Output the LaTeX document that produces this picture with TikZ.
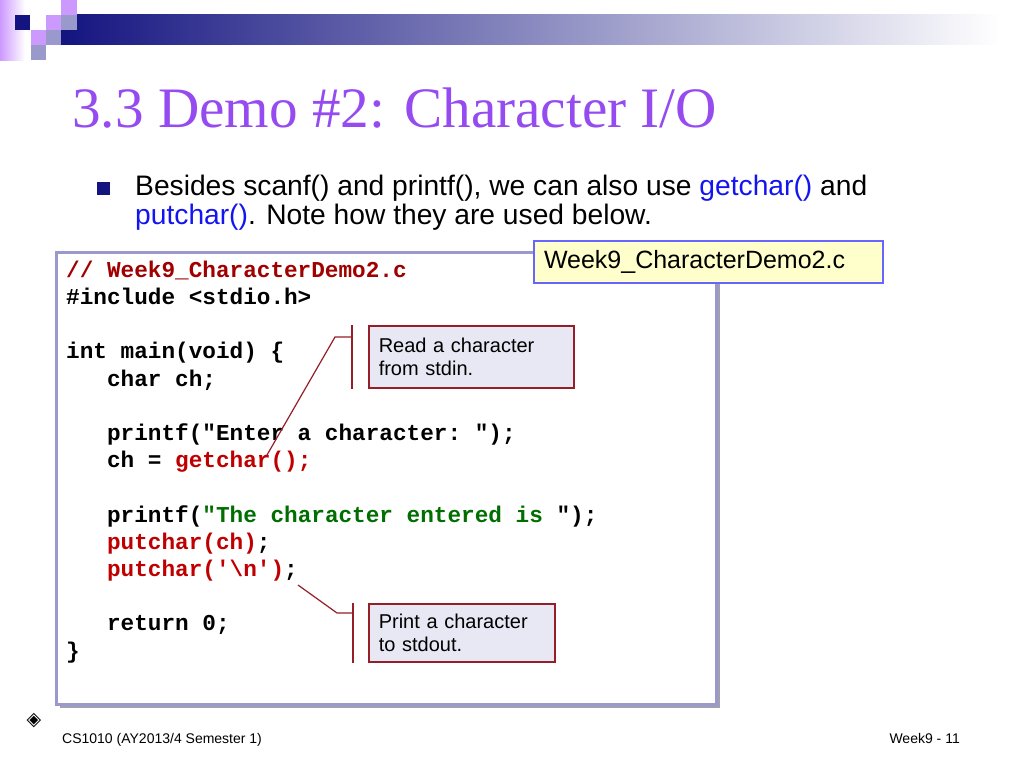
\documentclass[tikz,border=0pt]{standalone}
\usepackage{fontspec}
\setmainfont{Liberation Sans}
\setmonofont{Liberation Mono}
\newfontfamily\titrefont{Liberation Serif}
\newfontfamily\symbfont{DejaVu Sans}
\usepackage{tikz}
\usetikzlibrary{shapes}
\usetikzlibrary{positioning}
\usetikzlibrary{calc}
\usetikzlibrary{shadows}
\definecolor{marine}{RGB}{20,20,128}
\definecolor{lilas}{RGB}{204,153,255}
\definecolor{grisbleu}{RGB}{153,153,204}
\definecolor{violet}{RGB}{150,75,240}
\definecolor{bleu}{RGB}{20,20,240}
\definecolor{rouge}{RGB}{192,0,0}
\definecolor{comm}{RGB}{160,0,0}
\definecolor{vert}{RGB}{0,110,0}
\definecolor{brique}{RGB}{150,30,40}
\definecolor{lavande}{RGB}{232,232,244}
\definecolor{jaune}{RGB}{255,255,204}
\definecolor{cadrebleu}{RGB}{102,102,255}
\definecolor{ombre}{RGB}{160,160,178}
\tikzstyle{titre}=[font=\titrefont\fontsize{57.2}{60}\selectfont,text=violet,inner sep=0pt]
\tikzstyle{texte}=[font=\fontsize{28.2}{29}\selectfont,align=left,inner sep=0pt]
\tikzstyle{puce}=[rectangle,fill=marine,minimum size=13pt,inner sep=0pt]
\tikzstyle{cadre}=[
        rectangle,
        draw=grisbleu,
        line width=2.5pt,
        fill=white,
        drop shadow={shadow xshift=4pt,shadow yshift=-4pt,fill=ombre,opacity=1}
]
\tikzstyle{code}=[font=\fontsize{22.7}{27.2}\selectfont\ttfamily\bfseries,align=left,inner sep=0pt]
\tikzstyle{fichier}=[
        rectangle,
        draw=cadrebleu,
        line width=2pt,
        fill=jaune,
        font=\fontsize{25}{30}\selectfont,
        text width=329pt,
        align=left,
        minimum height=42pt,
        inner xsep=10pt,
        inner ysep=0pt
]
\tikzstyle{bulle}=[
        rectangle,
        draw=brique,
        line width=1.5pt,
        fill=lavande,
        font=\fontsize{20}{23}\selectfont,
        align=left,
        inner xsep=10pt,
        inner ysep=0pt
]
\tikzstyle{lien}=[draw=brique,line width=1.2pt]
\tikzstyle{pied}=[font=\fontsize{14}{16}\selectfont,inner sep=0pt]

\begin{document}
\begin{tikzpicture}[x=1pt,y=-1pt]
\useasboundingbox (0,0) rectangle (1024,768);
%Bandeau
\shade[left color=lilas,right color=white] (0,0) rectangle (25,60);
\shade[left color=marine,right color=white] (61,15) rectangle (1000,45);
\fill[marine] (15,15) rectangle (30,30);
\fill[lilas] (46,15) rectangle (61,30);
\fill[lilas] (61,0) rectangle (77,15);
\fill[grisbleu] (61,15) rectangle (77,30);
\fill[lilas] (31,30) rectangle (46,45);
\fill[grisbleu] (46,30) rectangle (61,45);
\fill[grisbleu] (31,45) rectangle (46,60);
\node[titre,anchor=base west] (titre) at (72,127) {3.3 Demo \#2: Character I/O};
\node[puce] (carre) at (103.5,188.5) {};
\node[texte,anchor=base west] (phrase) at (135,224) {Besides scanf() and printf(), we can also use \textcolor{bleu}{getchar()} and\\\textcolor{bleu}{putchar()}. Note how they are used below.};
%Code
\node[cadre,anchor=north west,minimum width=660pt,minimum height=452pt] (boite) at (55,251) {};
\node[code,anchor=base west] (source) at (66,658) {\textcolor{comm}{// Week9\_CharacterDemo2.c}\\
\#include <stdio.h>\\
\mbox{}\\
int main(void) \{\\
\phantom{xxx}char ch;\\
\mbox{}\\
\phantom{xxx}printf("Enter a character: ");\\
\phantom{xxx}ch = \textcolor{rouge}{getchar();}\\
\mbox{}\\
\phantom{xxx}printf(\textcolor{vert}{"The character entered is }");\\
\phantom{xxx}\textcolor{rouge}{putchar(ch)};\\
\phantom{xxx}\textcolor{rouge}{putchar('\textbackslash n')};\\
\mbox{}\\
\phantom{xxx}return 0;\\
\}};
\node[fichier,anchor=north west] (nom) at (533,240) {Week9\_CharacterDemo2.c};
%Bulles
\node[bulle,anchor=north west,text width=185pt,minimum height=62pt] (lire) at (368,325) {Read a character\\from stdin.};
\node[bulle,anchor=north west,text width=166pt,minimum height=58pt] (ecrire) at (368,603) {Print a character\\to stdout.};
\coordinate (haut1) at ($(lire.north west)+(-16,0)$);
\coordinate (bas1) at ($(lire.south west)+(-16,0)$);
\coordinate (coude1) at (335,337);
\coordinate (pointe1) at (267,455);
\coordinate (haut2) at ($(ecrire.north west)+(-15,0)$);
\coordinate (bas2) at ($(ecrire.south west)+(-15,0)$);
\coordinate (coude2) at (337,613);
\coordinate (pointe2) at (298,585);
%Placementdesliens
\draw[lien] (haut1) -- (bas1);
\draw[lien] (pointe1) -- (coude1) -- (coude1 -| haut1);
\draw[lien] (haut2) -- (bas2);
\draw[lien] (pointe2) -- (coude2) -- (coude2 -| haut2);
%Pied
\node[font=\symbfont\fontsize{19}{20}\selectfont,inner sep=0pt] (losange) at (34,721) {◈};
\node[pied,anchor=base west] (cours) at (62,743) {CS1010 (AY2013/4 Semester 1)};
\node[pied,anchor=base east] (page) at (960,743) {Week9 - 11};
\end{tikzpicture}
\end{document}
